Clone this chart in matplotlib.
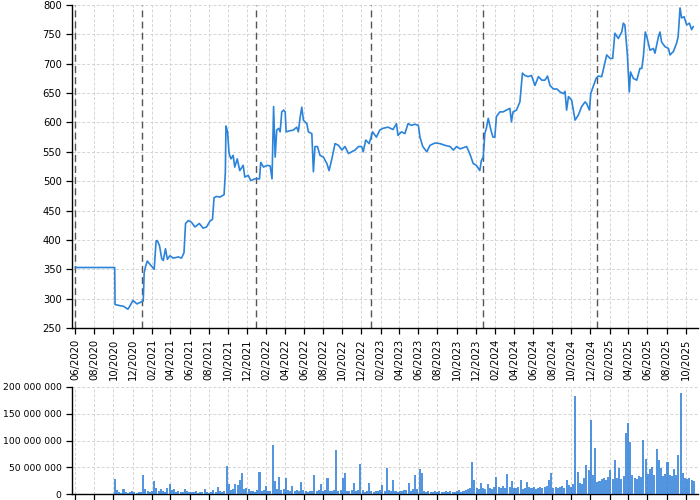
from __future__ import annotations

import matplotlib

matplotlib.use("Agg")
import matplotlib.dates as mdates
import matplotlib.pyplot as plt
import pandas as pd
from matplotlib.ticker import FuncFormatter, MultipleLocator

# closing price
price_dates = [
    "2020-06-01", "2020-10-05", "2020-10-06", "2020-10-22", "2020-11-02", "2020-11-16",
    "2020-11-23", "2020-12-02", "2020-12-15", "2020-12-31", "2021-01-04", "2021-01-07",
    "2021-01-12", "2021-01-17", "2021-01-26", "2021-02-08", "2021-02-14", "2021-02-18",
    "2021-02-25", "2021-03-04", "2021-03-09", "2021-03-16", "2021-03-22", "2021-03-30",
    "2021-04-10", "2021-04-26", "2021-05-06", "2021-05-14", "2021-05-19", "2021-05-28",
    "2021-06-07", "2021-06-18", "2021-07-02", "2021-07-14", "2021-07-25", "2021-08-05",
    "2021-08-13", "2021-08-18", "2021-08-26", "2021-09-06", "2021-09-19", "2021-09-23",
    "2021-09-25", "2021-09-30", "2021-10-05", "2021-10-11", "2021-10-18", "2021-10-23",
    "2021-10-31", "2021-11-08", "2021-11-19", "2021-11-24", "2021-12-05", "2021-12-13",
    "2021-12-27", "2022-01-10", "2022-01-14", "2022-01-23", "2022-02-03", "2022-02-13",
    "2022-02-19", "2022-02-24", "2022-03-01", "2022-03-06", "2022-03-12", "2022-03-17",
    "2022-03-22", "2022-03-28", "2022-04-02", "2022-04-05", "2022-04-18", "2022-04-28",
    "2022-05-09", "2022-05-14", "2022-05-20", "2022-05-25", "2022-05-30", "2022-06-10",
    "2022-06-15", "2022-06-26", "2022-07-01", "2022-07-06", "2022-07-14", "2022-07-22",
    "2022-08-02", "2022-08-13", "2022-08-20", "2022-08-29", "2022-09-08", "2022-09-19",
    "2022-09-30", "2022-10-10", "2022-10-21", "2022-10-31", "2022-11-11", "2022-11-22",
    "2022-12-02", "2022-12-07", "2022-12-15", "2022-12-26", "2023-01-06", "2023-01-18",
    "2023-01-29", "2023-02-08", "2023-02-24", "2023-03-12", "2023-03-23", "2023-03-28",
    "2023-04-08", "2023-04-19", "2023-04-29", "2023-05-10", "2023-05-21", "2023-06-01",
    "2023-06-06", "2023-06-15", "2023-06-28", "2023-07-08", "2023-07-24", "2023-08-09",
    "2023-08-25", "2023-09-10", "2023-09-21", "2023-10-01", "2023-10-12", "2023-11-02",
    "2023-11-12", "2023-11-23", "2023-12-03", "2023-12-14", "2023-12-19", "2023-12-25",
    "2023-12-30", "2024-01-04", "2024-01-10", "2024-01-15", "2024-01-20", "2024-01-25",
    "2024-01-31", "2024-02-05", "2024-02-16", "2024-02-26", "2024-03-08", "2024-03-19",
    "2024-03-24", "2024-03-29", "2024-04-09", "2024-04-20", "2024-04-28", "2024-05-06",
    "2024-05-16", "2024-05-27", "2024-06-07", "2024-06-18", "2024-06-29", "2024-07-09",
    "2024-07-17", "2024-07-25", "2024-08-05", "2024-08-16", "2024-08-26", "2024-09-06",
    "2024-09-11", "2024-09-16", "2024-09-22", "2024-10-02", "2024-10-13", "2024-10-23",
    "2024-11-03", "2024-11-14", "2024-11-19", "2024-11-28", "2024-12-02", "2024-12-11",
    "2024-12-19", "2024-12-26", "2025-01-06", "2025-01-22", "2025-02-02", "2025-02-10",
    "2025-02-17", "2025-02-28", "2025-03-11", "2025-03-16", "2025-03-21", "2025-03-29",
    "2025-04-04", "2025-04-08", "2025-04-17", "2025-04-28", "2025-05-08", "2025-05-14",
    "2025-05-19", "2025-05-25", "2025-05-30", "2025-06-09", "2025-06-20", "2025-06-25",
    "2025-07-06", "2025-07-11", "2025-07-16", "2025-07-27", "2025-08-07", "2025-08-12",
    "2025-08-23", "2025-09-02", "2025-09-07", "2025-09-13", "2025-09-18", "2025-09-26",
    "2025-10-04", "2025-10-13", "2025-10-20", "2025-10-25",
]
price_values = [
    353, 353, 290, 288, 287, 282,
    288, 297, 291, 295, 296, 344,
    356, 364, 358, 350, 398, 399,
    390, 368, 365, 385, 367, 373,
    369, 371, 369, 378, 428, 433,
    430, 422, 428, 420, 422, 432,
    435, 472, 474, 473, 477, 515,
    594, 584, 547, 538, 544, 524,
    538, 518, 527, 507, 510, 501,
    504, 504, 532, 524, 527, 526,
    504, 627, 541, 587, 590, 584,
    618, 621, 618, 584, 586, 587,
    592, 584, 610, 626, 604, 598,
    584, 581, 516, 559, 559, 544,
    541, 530, 518, 538, 564, 561,
    553, 559, 547, 550, 553, 559,
    559, 550, 570, 564, 584, 575,
    587, 590, 592, 588, 598, 578,
    584, 581, 598, 595, 597, 595,
    575, 559, 550, 561, 565, 564,
    561, 559, 553, 559, 555, 559,
    547, 530, 527, 518, 535, 541,
    581, 590, 607, 595, 584, 575,
    575, 610, 618, 618, 621, 624,
    601, 618, 621, 635, 684, 680,
    678, 680, 663, 678, 672, 672,
    679, 663, 657, 657, 652, 649,
    653, 621, 644, 638, 604, 612,
    627, 635, 632, 621, 649, 663,
    675, 679, 678, 715, 709, 709,
    752, 743, 754, 769, 766, 715,
    652, 686, 675, 672, 692, 692,
    712, 754, 746, 723, 726, 718,
    746, 754, 737, 729, 726, 715,
    721, 735, 746, 795, 778, 780,
    766, 769, 758, 763,
]

# weekly traded volume in millions, one value per week from the first week
volume_start = "2020-10-05"
volume_millions = [
    28, 7.5, 3, 2, 9, 4, 2, 3, 6, 3,
    2, 4, 3, 36, 10, 5, 4, 6, 24, 12,
    5, 10, 6, 4, 12, 18, 7, 9, 4, 5,
    3, 4, 10, 5, 3, 4, 3, 6, 2, 3,
    4, 9, 3, 2, 4, 8, 3, 14, 5, 4,
    6, 52, 18, 8, 10, 18, 17, 26, 39, 9,
    12, 10, 6, 5, 4, 7, 41, 6, 8, 15,
    5, 6, 92, 24, 9, 32, 8, 10, 29, 7,
    6, 15, 5, 8, 6, 23, 7, 5, 4, 6,
    5, 36, 6, 7, 18, 5, 8, 29, 6, 5,
    7, 82, 6, 8, 29, 40, 6, 5, 7, 20,
    6, 8, 56, 7, 4, 6, 21, 5, 4, 6,
    5, 7, 17, 6, 49, 8, 6, 26, 5, 4,
    6, 5, 7, 8, 20, 6, 9, 36, 10, 47,
    39, 6, 4, 5, 3, 4, 6, 3, 5, 4,
    3, 5, 4, 6, 3, 4, 5, 7, 4, 6,
    8, 10, 12, 59, 26, 12, 9, 20, 11, 10,
    18, 12, 10, 14, 32, 13, 11, 15, 12, 37,
    14, 25, 12, 11, 13, 26, 10, 12, 23, 14,
    11, 13, 10, 12, 14, 11, 13, 15, 27, 40,
    12, 14, 11, 13, 15, 12, 27, 16, 14, 18,
    184, 42, 20, 18, 29, 54, 45, 139, 35, 86,
    22, 25, 28, 30, 26, 32, 45, 28, 64, 30,
    49, 28, 33, 114, 133, 98, 35, 30, 28, 34,
    32, 101, 65, 38, 46, 51, 36, 84, 64, 48,
    34, 38, 59, 36, 33, 46, 35, 73, 188, 40,
    30, 28, 29, 26, 24,
]

# dashed year markers
marker_dates = ["2020-06-01", "2020-12-30", "2021-12-31", "2022-12-31", "2023-12-25", "2024-12-23"]

LINE_BLUE = "#2b83da"
BAR_BLUE = "#1a73d5"
GRID = "#d4d4d4"


def style_axes(ax, labelsize: float) -> None:
    for side in ("top", "right"):
        ax.spines[side].set_visible(False)
    ax.spines["left"].set_linewidth(1.0)
    ax.spines["bottom"].set_linewidth(1.0)
    ax.grid(True, color=GRID, linestyle=(0, (3, 2)), linewidth=0.7)
    ax.set_axisbelow(True)
    ax.tick_params(labelsize=labelsize, length=4, width=0.9, colors="black")
    ax.xaxis.set_major_locator(mdates.MonthLocator(bymonth=[2, 4, 6, 8, 10, 12]))


def main() -> None:
    plt.rcParams["font.family"] = ["DejaVu Sans"]

    dates = pd.to_datetime(price_dates)
    vol_dates = pd.date_range(volume_start, periods=len(volume_millions), freq="7D")
    vol_values = [v * 1_000_000 for v in volume_millions]
    x_left = pd.Timestamp("2020-05-22")
    x_right = pd.Timestamp("2025-11-09")

    fig = plt.figure(figsize=(7, 5), dpi=100)
    ax = fig.add_axes([0.103, 0.344, 0.894, 0.646])
    ax_vol = fig.add_axes([0.103, 0.012, 0.894, 0.214])

    style_axes(ax, 7.2)
    ax.plot(dates, price_values, color=LINE_BLUE, linewidth=1.2, zorder=3)
    for d in marker_dates:
        ax.axvline(pd.Timestamp(d), color="#555555", linewidth=1.0,
                   linestyle=(0, (5, 3)), zorder=2)
    ax.set_ylim(250, 800)
    ax.yaxis.set_major_locator(MultipleLocator(50))
    ax.set_xlim(x_left, x_right)
    ax.xaxis.set_major_formatter(mdates.DateFormatter("%m/%Y"))
    plt.setp(ax.get_xticklabels(), rotation=90)

    style_axes(ax_vol, 6.7)
    ax_vol.bar(vol_dates, vol_values, width=6.5, color=BAR_BLUE, alpha=0.75,
               linewidth=0, zorder=3)
    ax_vol.set_ylim(0, 200_000_000)
    ax_vol.yaxis.set_major_locator(MultipleLocator(50_000_000))
    ax_vol.yaxis.set_major_formatter(
        FuncFormatter(lambda v, _: f"{int(v):,}".replace(",", " "))
    )
    ax_vol.set_xlim(x_left, x_right)
    ax_vol.tick_params(axis="x", labelbottom=False)

    fig.savefig("out.png", dpi=100)
    plt.close(fig)


if __name__ == "__main__":
    main()
